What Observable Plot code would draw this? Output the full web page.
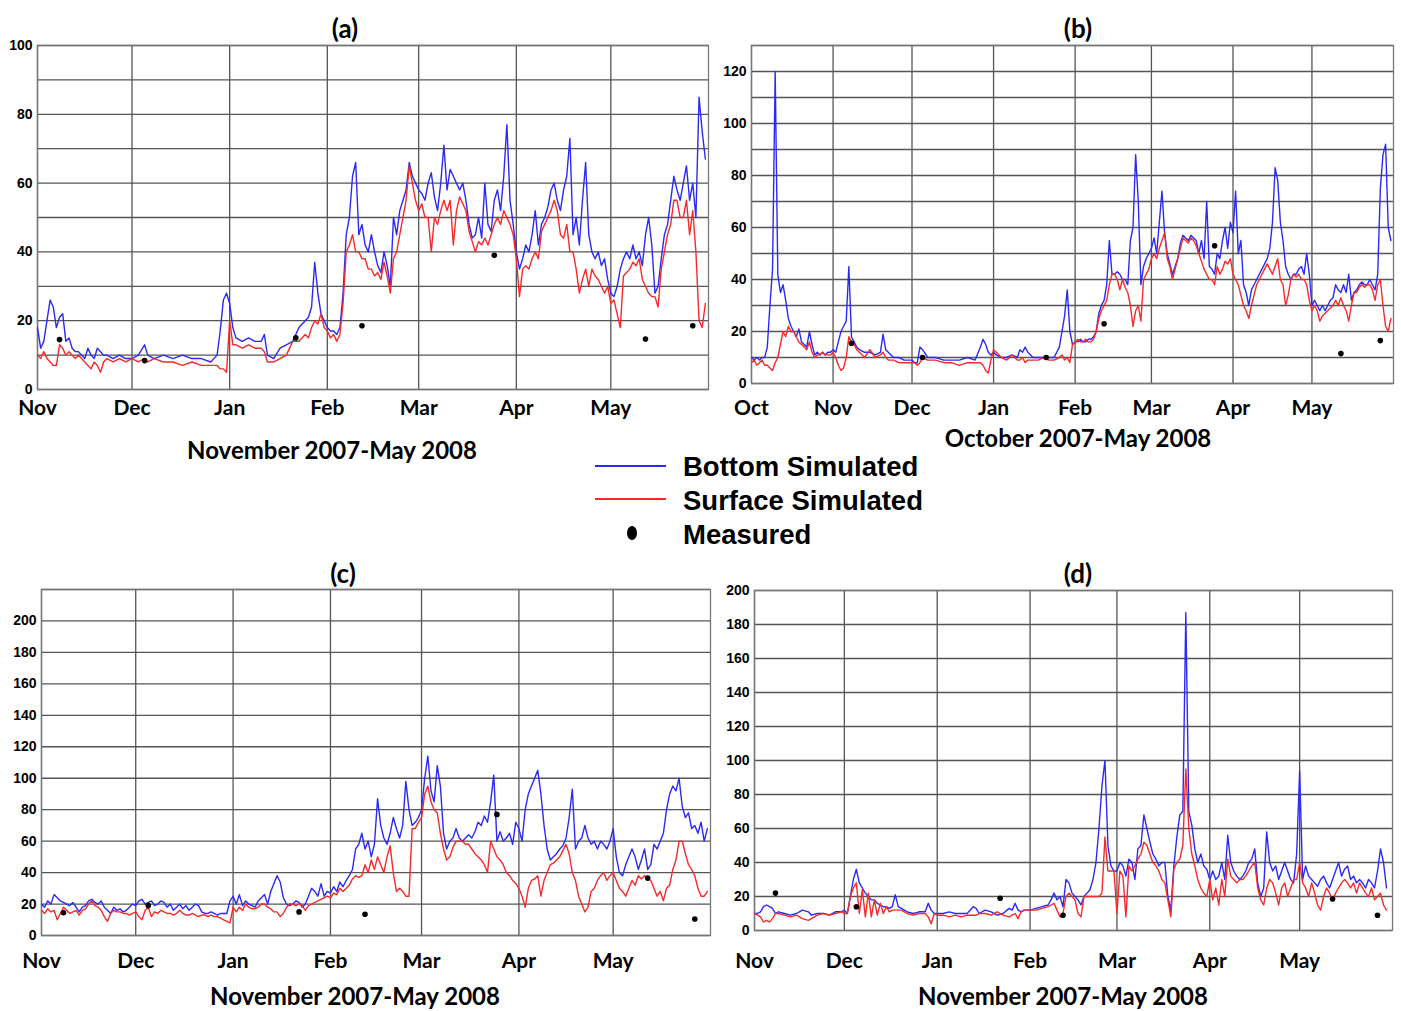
<!DOCTYPE html>
<html><head><meta charset="utf-8">
<script src="https://cdn.jsdelivr.net/npm/d3@7"></script>
<script src="https://cdn.jsdelivr.net/npm/@observablehq/plot@0.6"></script>
<style>
body{margin:0;background:#fff;}
#root{position:relative;width:1401px;height:1011px;overflow:hidden;font-family:Lato,"Open Sans",sans-serif;color:#000;}
.panel{position:absolute;}
.ttl{position:absolute;font-weight:700;font-size:26px;line-height:1;transform:translate(-50%,-50%);white-space:nowrap;}
.sub{position:absolute;font-weight:700;font-size:24px;line-height:1;transform:translate(-50%,-50%);white-space:nowrap;}
</style></head><body><div id="root"></div><script>
// ---------- tick labels ----------
const monthLabels = ["Oct","Nov","Dec","Jan","Feb","Mar","Apr","May"];
const monthStarts = ["2007-10-01","2007-11-01","2007-12-01","2008-01-01","2008-02-01","2008-03-01","2008-04-01","2008-05-01"];
const yTicksA = [0,20,40,60,80,100];
const yGridA = [0,10,20,30,40,50,60,70,80,90,100];
const yTicksB = [0,20,40,60,80,100,120];
const yGridB = [0,10,20,30,40,50,60,70,80,90,100,110,120,130];
const yTicksC = [0,20,40,60,80,100,120,140,160,180,200];
const yGridC = [0,20,40,60,80,100,120,140,160,180,200,220];
const yTicksD = [0,20,40,60,80,100,120,140,160,180,200];
const yGridD = [0,20,40,60,80,100,120,140,160,180,200];

// ---------- panel (a): days since 2007-11-01 ----------
const aDays = [0,1,2,3,4,5,6,7,8,9,10,11,12,13,14,15,16,17,18,19,20,21,22,24,26,28,
30,32,34,35,37,40,43,46,49,52,55,57,58,59,60,
61,62,63,65,67,69,71,72,73,75,77,79,81,83,85,86,87,88,89,90,91,
92,93,94,95,96,97,98,99,100,101,102,103,104,105,106,107,108,109,110,111,112,113,114,115,116,117,118,119,120,
121,122,123,124,125,126,127,128,129,130,131,132,133,134,135,136,137,138,139,140,141,142,143,144,145,146,147,148,149,150,151,
152,153,154,155,156,157,158,159,160,161,162,163,164,165,166,167,168,169,170,171,172,173,174,175,176,177,178,179,180,181,
182,183,184,185,186,187,188,189,190,191,192,193,194,195,196,197,198,199,200,201,202,203,204,205,206,207,208,209,210,211,212];
const aBottom = [18,12,14,20,26,24,18,21,22,14,15,12,11,11,10,9,12,10,9,12,11,10,10,9,10,9,
9,10,13,10,9,10,9,10,9,9,8,10,17,26,28,
25,18,15,14,15,14,14,16,10,9,12,13,14,18,20,21,24,37,28,22,20,
18,17,17,16,18,28,45,50,62,66,45,48,42,40,45,40,36,34,40,36,30,50,45,52,55,58,66,62,60,
58,57,55,60,63,56,52,60,71,58,64,62,60,58,60,55,48,44,45,50,44,60,48,46,55,58,52,62,77,55,48,
40,35,38,42,40,45,52,42,48,50,53,58,60,55,52,58,62,73,45,50,42,55,66,45,40,38,40,36,38,32,
28,27,30,35,38,40,38,42,38,40,36,45,50,42,28,30,38,45,48,55,62,58,55,60,65,55,60,50,85,75,67];
const aSurface = [10,9,11,9,8,7,7,13,12,10,11,10,9,10,9,8,7,6,8,7,5,8,9,8,9,8,
9,8,9,8,9,8,8,7,8,7,7,7,6,6,5,
20,13,13,12,13,12,12,11,8,8,9,10,14,14,16,15,18,20,19,22,18,
17,15,16,14,16,25,40,42,45,40,40,38,38,35,35,33,34,32,37,33,28,38,40,45,50,55,65,60,55,
52,54,50,50,40,50,48,52,55,52,55,42,52,56,54,52,46,43,40,43,42,44,42,45,48,50,48,52,50,48,45,
38,27,35,36,35,38,40,38,46,48,50,52,55,52,45,44,48,40,40,35,28,32,35,30,35,33,32,30,28,30,
25,26,22,18,33,34,35,37,36,38,32,30,28,27,27,24,35,40,45,48,55,55,50,50,55,45,52,40,20,18,25];
const aMeasDays = [7,34,82,103,145,193,208];
const aMeasVals = [14.5,8.4,15,18.5,39,14.7,18.5];

// ---------- panel (b): days since 2007-10-01 ----------
const bDays = [0,1,2,3,4,5,6,7,8,9,10,11,12,13,14,15,16,17,18,19,20,21,22,23,24,25,26,27,28,29,30,
31,32,33,34,35,36,37,38,39,40,41,43,45,47,49,50,51,52,54,56,58,60,
61,62,63,64,65,67,70,73,76,79,82,85,87,88,89,90,91,
92,93,95,97,99,101,102,103,104,105,107,109,111,113,115,117,118,119,120,121,122,
123,124,125,126,127,128,129,130,131,132,133,134,135,136,137,138,139,140,141,142,143,144,145,146,147,148,149,150,151,
152,153,154,155,156,157,158,159,160,161,162,163,164,165,166,167,168,169,170,171,172,173,174,175,176,177,178,179,180,181,182,
183,184,185,186,187,188,189,190,191,192,193,194,195,196,197,198,199,200,201,202,203,204,205,206,207,208,209,210,211,212,
213,214,215,216,217,218,219,220,221,222,223,224,225,226,227,228,229,230,231,232,233,234,235,236,237,238,239,240,241,242,243];
const bBottom = [10,9,10,9,10,10,14,30,44,120,42,35,38,32,25,22,20,18,21,16,15,14,20,15,11,12,11,12,11,12,12,
13,12,16,20,22,24,45,18,16,14,13,12,12,11,12,19,13,12,10,10,9,9,
9,8,8,14,13,10,10,9,9,9,10,9,14,17,15,12,11,
12,11,10,10,11,10,13,12,14,12,10,10,10,10,10,14,20,26,36,20,15,
16,16,17,16,16,17,17,18,20,27,30,32,38,55,42,42,43,42,40,40,38,55,60,88,70,38,45,48,50,
52,56,50,62,74,58,50,46,42,45,48,54,57,56,55,57,56,55,50,55,48,70,45,44,42,50,48,55,60,52,62,
58,74,50,55,38,35,30,36,38,40,42,44,46,48,52,62,83,78,62,55,45,42,40,42,42,44,45,42,50,42,
30,32,30,28,30,28,30,32,33,38,36,35,38,35,42,32,35,36,38,39,38,38,40,38,36,42,75,88,92,60,55];
const bSurface = [8,9,7,8,9,7,7,6,5,8,10,15,20,18,22,20,20,18,16,15,14,13,16,12,10,11,11,12,11,11,11,
12,10,7,5,6,10,18,16,15,13,12,10,13,10,11,12,10,9,9,8,8,8,
8,8,7,8,10,9,9,8,8,7,8,8,8,7,5,4,9,
13,12,10,9,11,9,9,10,8,9,9,9,10,9,9,10,11,9,10,8,15,
16,17,16,16,17,16,16,17,20,25,28,30,32,38,42,42,40,36,40,37,35,30,22,28,30,24,40,42,44,
48,50,48,52,55,58,48,45,40,44,48,52,56,55,54,56,55,53,50,47,44,42,40,40,38,45,42,44,47,46,48,
42,40,38,34,30,28,25,30,34,38,40,42,44,46,44,42,45,48,40,38,30,34,40,42,41,42,40,40,38,32,
28,30,28,24,26,27,28,29,30,32,30,33,30,28,24,30,35,35,37,38,37,38,38,36,32,38,40,30,22,20,25];
const bMeasDays = [38,65,112,134,176,224,239];
const bMeasVals = [15.5,10,10,23,53,11.5,16.5];

// ---------- panel (c): days since 2007-11-01 ----------
const cDays = [0,1,2,3,4,5,6,7,8,9,10,11,12,13,14,15,16,17,18,19,20,21,22,23,24,25,26,27,28,29,
30,31,32,33,34,35,36,37,38,39,40,41,42,43,44,45,46,47,48,49,50,51,52,53,54,55,56,57,58,59,60,
61,62,63,64,65,66,67,68,69,70,71,72,73,74,75,76,77,78,79,80,81,82,83,84,85,86,87,88,89,90,91,
92,93,94,95,96,97,98,99,100,101,102,103,104,105,106,107,108,109,110,111,112,113,114,115,116,117,118,119,120,
121,122,123,124,125,126,127,128,129,130,131,132,133,134,135,136,137,138,139,140,141,142,143,144,145,146,147,148,149,150,151,
152,153,154,155,156,157,158,159,160,161,162,163,164,165,166,167,168,169,170,171,172,173,174,175,176,177,178,179,180,181,
182,183,184,185,186,187,188,189,190,191,192,193,194,195,196,197,198,199,200,201,202,203,204,205,206,207,208,209,210,211,212];
const cBottom = [20,18,22,20,26,24,22,21,20,19,21,18,15,18,19,22,23,21,20,22,18,16,14,18,16,17,15,16,18,20,
19,22,23,20,21,22,19,20,22,21,18,20,16,18,20,17,19,16,18,20,19,15,14,14,15,14,13,14,14,14,22,
25,20,26,19,22,20,19,18,22,24,26,20,28,33,38,34,24,20,19,20,22,21,18,20,25,30,28,25,33,25,28,
27,31,28,34,31,35,38,42,55,58,65,55,60,50,58,87,70,62,58,65,75,68,62,70,98,80,70,72,75,
80,100,114,92,85,108,95,65,55,60,62,68,62,60,62,64,62,66,72,70,76,72,85,102,60,66,60,62,65,58,72,
68,60,80,90,95,100,105,90,70,55,48,50,52,55,57,62,75,93,55,60,62,70,62,58,60,55,60,58,55,60,
68,50,40,38,45,50,55,50,42,48,55,42,45,58,55,60,65,80,90,95,92,100,82,75,78,68,70,65,72,60,68];
const cSurface = [16,14,17,15,16,10,14,18,16,14,15,16,13,16,17,20,22,19,18,16,12,9,14,16,15,15,14,14,13,14,
15,12,10,16,18,12,15,14,16,15,14,14,13,14,16,14,13,13,14,13,12,13,13,12,13,12,12,11,10,9,8,
18,15,18,16,20,18,17,17,18,20,20,18,17,15,15,12,14,18,20,20,19,20,19,16,19,20,21,22,23,24,25,
24,27,26,30,28,30,32,36,38,37,38,45,40,48,42,50,45,40,50,57,40,28,30,28,25,25,68,68,72,
75,90,95,85,80,78,65,55,48,50,56,60,60,60,58,58,55,52,50,48,45,40,60,55,50,48,45,40,38,35,33,
30,25,18,30,35,36,38,25,35,40,45,46,48,50,54,58,52,40,35,25,20,15,18,28,30,35,38,40,35,38,
40,35,30,28,25,30,35,32,38,36,38,36,35,30,25,28,22,30,32,42,48,60,60,52,45,42,38,30,25,25,28];
const cMeasDays = [7,34,82,103,145,193,208];
const cMeasVals = [14.5,19,15,13.5,77,36.5,10.5];

// ---------- panel (d): days since 2007-11-01 ----------
const dDays = [0,1,2,3,4,5,6,7,8,10,12,14,16,18,19,21,23,25,27,29,
30,31,32,33,34,35,36,37,38,39,40,41,42,43,44,45,46,47,48,49,51,53,55,57,58,59,60,
61,63,65,67,69,71,73,74,75,77,79,81,83,85,86,87,88,89,90,
92,94,96,98,99,100,101,102,103,104,105,106,107,108,109,110,111,112,113,114,115,116,117,118,119,120,
121,122,123,124,125,126,127,128,129,130,131,132,133,134,135,136,137,138,139,140,141,142,143,144,145,146,147,148,149,150,151,
152,153,154,155,156,157,158,159,160,161,162,163,164,165,166,167,168,169,170,171,172,173,174,175,176,177,178,179,180,181,
182,183,184,185,186,187,188,189,190,191,192,193,194,195,196,197,198,199,200,201,202,203,204,205,206,207,208,209,210,211];
const dBottom = [10,10,11,14,15,14,13,10,11,10,9,10,12,11,9,10,10,9,11,11,
12,10,20,30,36,28,25,22,20,18,18,16,15,14,14,13,14,21,14,13,11,10,11,11,16,12,10,
10,10,11,10,10,10,14,13,10,12,11,9,10,13,12,16,12,11,12,
12,13,14,15,18,22,18,20,14,30,28,22,20,18,15,20,22,24,30,40,60,85,100,50,38,35,
35,40,38,32,42,40,30,48,50,68,60,52,45,42,38,40,40,20,12,38,55,68,70,187,70,62,48,40,45,38,36,
30,35,30,32,40,30,56,40,35,32,30,32,35,40,42,48,28,20,25,58,40,35,38,30,35,40,35,30,28,45,
94,30,38,32,30,28,26,30,32,28,25,30,35,40,32,36,38,30,32,28,30,28,25,30,28,25,35,48,40,25];
const dSurface = [10,9,8,5,6,5,7,10,10,9,8,9,7,6,7,9,10,9,10,11,
10,10,20,25,28,10,24,8,22,8,18,9,16,10,14,11,12,12,12,12,10,9,10,10,8,4,10,
9,9,8,9,8,9,9,9,10,10,9,11,9,8,9,10,7,11,12,
12,12,13,14,15,16,12,8,10,20,22,20,18,10,8,20,20,20,20,20,20,22,55,35,35,35,
10,35,32,8,38,35,38,42,45,52,50,45,40,38,35,30,28,18,8,36,40,42,50,95,60,45,38,30,25,22,20,
30,18,25,15,30,20,42,32,30,28,30,30,32,35,38,40,25,18,15,25,30,28,22,15,25,28,20,25,30,30,
40,28,25,20,28,22,15,12,20,25,22,18,22,25,28,30,28,25,28,22,28,25,22,20,25,18,20,22,15,12];
const dMeasDays = [7,34,82,103,193,208];
const dMeasVals = [22,14,19,9,18.5,9];

// ---------- drawing ----------
const DAY = 864e5;
const BLUE = "#2a2af5", RED = "#f52a2a", GRID = "#555";
const monthDates = monthStarts.map(s => new Date(s + "T00:00:00Z"));
const labelOf = new Map(monthDates.map((d, i) => [+d, monthLabels[i]]));
const root = document.getElementById("root");

function panel(o) {
  const start = new Date(o.start + "T00:00:00Z");
  const end = new Date("2008-06-01T00:00:00Z");
  const rows = o.days.map((d, i) => ({date: new Date(+start + d * DAY), bottom: o.bottom[i], surface: o.surface[i]}));
  const meas = o.measDays.map((d, i) => ({date: new Date(+start + d * DAY), v: o.measVals[i]}));
  const months = monthDates.filter(d => d >= start);
  const svg = Plot.plot({
    width: o.w, height: o.h,
    marginLeft: o.ml, marginRight: o.mr, marginTop: o.mt, marginBottom: o.mb,
    x: {type: "utc", domain: [start, end], label: null},
    y: {domain: [0, o.ymax], label: null},
    style: {fontFamily: "Lato, sans-serif", background: "transparent", color: "#000", overflow: "visible"},
    marks: [
      Plot.gridY(o.grid, {stroke: GRID, strokeOpacity: 1, strokeWidth: 1.3}),
      Plot.gridX(months, {stroke: GRID, strokeOpacity: 1, strokeWidth: 1.3}),
      Plot.frame({stroke: "#777", strokeWidth: 1.3}),
      Plot.axisY(o.ticks, {tickSize: 0, tickPadding: 5, fontSize: 14, fontWeight: "bold", fontFamily: "Liberation Sans, Arial, sans-serif"}),
      Plot.axisX(months, {tickSize: 0, tickPadding: o.xpad, fontSize: 21, fontWeight: "bold", fontFamily: "Lato, sans-serif", tickFormat: d => labelOf.get(+d)}),
      Plot.lineY(rows, {x: "date", y: "bottom", stroke: BLUE, strokeWidth: 1.4, clip: true}),
      Plot.lineY(rows, {x: "date", y: "surface", stroke: RED, strokeWidth: 1.4, clip: true}),
      Plot.dot(meas, {x: "date", y: "v", r: 2.8, fill: "#000", stroke: "none"})
    ]
  });
  const div = document.createElement("div");
  div.className = "panel";
  div.style.left = o.left + "px"; div.style.top = o.top + "px";
  div.appendChild(svg);
  root.appendChild(div);
  const t = document.createElement("div");
  t.className = "ttl"; t.textContent = o.title;
  t.style.left = o.tx + "px"; t.style.top = o.ty + "px";
  root.appendChild(t);
  const s = document.createElement("div");
  s.className = "sub"; s.textContent = o.sub;
  s.style.left = o.sx + "px"; s.style.top = o.sy + "px";
  root.appendChild(s);
}

panel({start: "2007-11-01", days: aDays, bottom: aBottom, surface: aSurface, measDays: aMeasDays, measVals: aMeasVals,
  ymax: 100, grid: yGridA, ticks: yTicksA, left: 0, top: 30, w: 720, h: 400, ml: 37, mr: 12, mt: 15, mb: 41, xpad: 11,
  title: "(a)", tx: 345, ty: 28, sub: "November 2007-May 2008", sx: 332, sy: 450});
panel({start: "2007-10-01", days: bDays, bottom: bBottom, surface: bSurface, measDays: bMeasDays, measVals: bMeasVals,
  ymax: 130, grid: yGridB, ticks: yTicksB, left: 710, top: 30, w: 691, h: 400, ml: 41, mr: 8, mt: 15, mb: 47, xpad: 17,
  title: "(b)", tx: 1078, ty: 28, sub: "October 2007-May 2008", sx: 1078, sy: 438});
panel({start: "2007-11-01", days: cDays, bottom: cBottom, surface: cSurface, measDays: cMeasDays, measVals: cMeasVals,
  ymax: 220, grid: yGridC, ticks: yTicksC, left: 0, top: 560, w: 720, h: 420, ml: 41, mr: 10, mt: 29, mb: 45, xpad: 18,
  title: "(c)", tx: 343, ty: 573, sub: "November 2007-May 2008", sx: 355, sy: 996});
panel({start: "2007-11-01", days: dDays, bottom: dBottom, surface: dSurface, measDays: dMeasDays, measVals: dMeasVals,
  ymax: 200, grid: yGridD, ticks: yTicksD, left: 710, top: 560, w: 691, h: 420, ml: 44, mr: 9, mt: 30, mb: 50, xpad: 23,
  title: "(d)", tx: 1078, ty: 573, sub: "November 2007-May 2008", sx: 1063, sy: 996});

// ---------- legend ----------
const legendItems = ["Bottom Simulated", "Surface Simulated", "Measured"];
const ns = "http://www.w3.org/2000/svg";
const leg = document.createElementNS(ns, "svg");
leg.setAttribute("width", 360); leg.setAttribute("height", 110);
leg.style.position = "absolute"; leg.style.left = "580px"; leg.style.top = "445px";
function el(name, attrs, text) {
  const e = document.createElementNS(ns, name);
  for (const k in attrs) e.setAttribute(k, attrs[k]);
  if (text) e.textContent = text;
  leg.appendChild(e); return e;
}
el("line", {x1: 15, x2: 86, y1: 21, y2: 21, stroke: BLUE, "stroke-width": 2});
el("line", {x1: 15, x2: 86, y1: 54, y2: 54, stroke: RED, "stroke-width": 2});
el("ellipse", {cx: 52, cy: 88, rx: 5, ry: 7, fill: "#000"});
legendItems.forEach((t, i) => el("text", {x: 103, y: 21 + i * 34, "dominant-baseline": "central", "font-family": "Liberation Sans, Arial, sans-serif", "font-weight": "bold", "font-size": 27.5, fill: "#000"}, t));
root.appendChild(leg);
</script></body></html>
